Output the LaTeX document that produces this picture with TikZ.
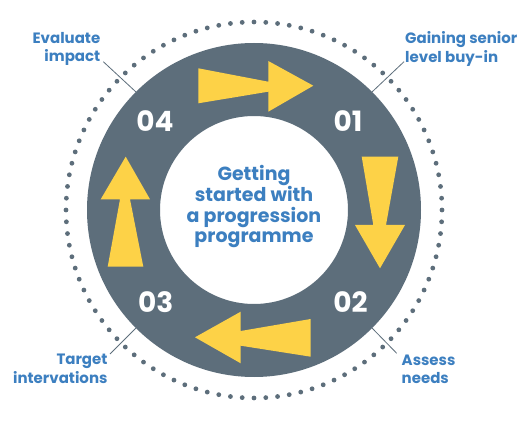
\documentclass[tikz,border=0pt]{standalone}
\usepackage{fontspec}
\setmainfont{Poppins}
\definecolor{ringgrey}{HTML}{5D6E7B}
\definecolor{arrowyellow}{HTML}{FDD247}
\definecolor{textblue}{HTML}{3C7FC0}
\begin{document}
\begin{tikzpicture}[x=1pt,y=-1pt,
  lab/.style={text=textblue,inner sep=0pt,font=\bfseries\fontsize{15}{18.5}\selectfont},
  num/.style={text=white,inner sep=0pt,anchor=base,font=\bfseries\fontsize{28}{30}\selectfont},
  leader/.style={draw=ringgrey,line width=0.8pt},
  arrowshape/.style={fill=arrowyellow}]
\useasboundingbox (0,0) rectangle (523,441);
\fill[white] (0,0) rectangle (523,441);
% ring
\coordinate (c) at (254,210);
\fill[ringgrey,even odd rule] (c) circle[radius=167] (c) circle[radius=94];
% dotted circle
\foreach \i in {0,...,99}
  \fill[ringgrey] (c) ++(\i*3.6:188) circle[radius=2.4];
% arrows
\fill[arrowshape] (198.3,68.3) -- (268.3,81.7) -- (268.3,61) -- (313.3,85.7) -- (268.3,111.7) -- (268.3,91.7) -- (198.3,103.3) -- cycle;
\fill[arrowshape] (361.7,156.7) -- (398.3,156.7) -- (386,225) -- (405,225) -- (380,268.3) -- (355,225) -- (373.3,225) -- cycle;
\fill[arrowshape] (310.7,319) -- (240.7,331) -- (240.7,311.7) -- (195,337.3) -- (240.7,363.3) -- (240.7,345.7) -- (310.7,356.7) -- cycle;
\fill[arrowshape] (107.7,266.7) -- (120,199.3) -- (100.7,199.3) -- (125.7,156.7) -- (150,199.3) -- (130,199.3) -- (143.3,266.7) -- cycle;
% numbers
\node[num] (n4) at (155,131.7) {04};
\node[num] (n1) at (348,131.7) {01};
\node[num] (n3) at (155.8,312.3) {03};
\node[num] (n2) at (350.5,312.3) {02};
% centre text
\node[text=textblue,inner sep=0pt,align=center,anchor=base,font=\bfseries\fontsize{19}{20.2}\selectfont] (title) at (254,242.3) {Getting\\started with\\a progression\\programme};
% labels
\node[lab,anchor=base east,align=right] (l4) at (100.5,62) {Evaluate\\impact};
\node[lab,anchor=base west,align=left] (l1) at (405,62.2) {Gaining senior\\level buy-in};
\node[lab,anchor=base east,align=right] (l3) at (107.7,383.5) {Target\\intervations};
\node[lab,anchor=base west,align=left] (l2) at (401.5,384) {Assess\\needs};
% leader lines
\coordinate (r4) at (135.9,91.9);
\coordinate (r1) at (372.1,91.9);
\coordinate (r3) at (135.9,328.1);
\coordinate (r2) at (372.1,328.1);
\coordinate (t4) at (103.3,61.7);
\coordinate (t1) at (404,61.7);
\coordinate (t3) at (110,354);
\coordinate (t2) at (396.7,353.3);
\draw[leader] (r4) -- (t4);
\draw[leader] (r1) -- (t1);
\draw[leader] (r3) -- (t3);
\draw[leader] (r2) -- (t2);
\end{tikzpicture}
\end{document}
